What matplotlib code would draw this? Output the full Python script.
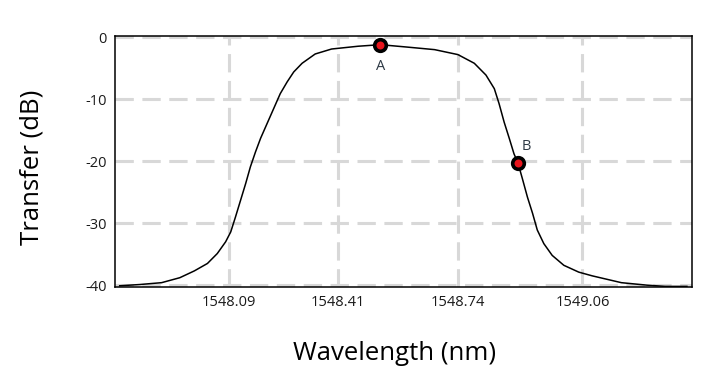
import numpy as np
import matplotlib
matplotlib.use('Agg')
import matplotlib.pyplot as plt

# curve
wavelength = [1547.789, 1547.844, 1547.904, 1547.954, 1547.994, 1548.030, 1548.057,
              1548.080, 1548.094, 1548.107, 1548.121, 1548.135, 1548.148, 1548.162,
              1548.176, 1548.194, 1548.212, 1548.230, 1548.249, 1548.267, 1548.290,
              1548.326, 1548.371, 1548.444, 1548.505, 1548.581, 1548.654, 1548.718,
              1548.763, 1548.795, 1548.818, 1548.831, 1548.845, 1548.859, 1548.872,
              1548.883, 1548.895, 1548.909, 1548.923, 1548.936, 1548.954, 1548.977,
              1549.009, 1549.050, 1549.087, 1549.167, 1549.237, 1549.287, 1549.347]
transfer = [-40.1, -39.9, -39.6, -38.8, -37.7, -36.5, -34.9,
            -33.0, -31.4, -29.0, -26.3, -23.6, -20.9, -18.5,
            -16.3, -13.9, -11.5, -9.1, -7.2, -5.6, -4.2,
            -2.7, -1.9, -1.45, -1.2, -1.6, -2.0, -2.8,
            -4.2, -6.1, -8.3, -10.7, -13.7, -16.3, -18.8,
            -20.3, -22.8, -25.8, -28.4, -31.1, -33.3, -35.2,
            -36.8, -37.9, -38.5, -39.6, -40.0, -40.2, -40.2]

# marked points
pt_names = ['A', 'B']
pt_wl = [1548.505, 1548.883]
pt_db = [-1.2, -20.3]

# axis ticks (label text vs. where the grid lines sit in the picture)
xtick_pos = [1548.09, 1548.388, 1548.718, 1549.06]
xtick_labels = ['1548.09', '1548.41', '1548.74', '1549.06']
ytick_pos = [0, -10, -20, -30, -40]

plt.rcParams['font.family'] = ['Open Sans', 'DejaVu Sans']
plt.rcParams['axes.unicode_minus'] = False

fig = plt.figure(figsize=(7.2, 3.77), dpi=100)
ax = fig.add_axes([0.1597, 0.2387, 0.8014, 0.6658])

ax.plot(wavelength, transfer, color='black', lw=1.1, zorder=3,
        solid_joinstyle='round')
ax.scatter(pt_wl, pt_db, s=70, facecolor='#e8141c', edgecolor='black',
           linewidth=2.6, zorder=4)
ax.annotate(pt_names[0], (pt_wl[0], pt_db[0]), xytext=(0, -16),
            textcoords='offset points', ha='center', va='center',
            fontsize=10.5, color='#2e3a45')
ax.annotate(pt_names[1], (pt_wl[1], pt_db[1]), xytext=(6, 12),
            textcoords='offset points', ha='center', va='center',
            fontsize=10.5, color='#2e3a45')

ax.set_xlim(1547.776, 1549.361)
ax.set_ylim(-40.3, 0.2)
ax.set_xticks(xtick_pos)
ax.set_xticklabels(xtick_labels)
ax.set_yticks(ytick_pos)
ax.tick_params(length=0, labelsize=10.5, pad=6, labelcolor='#1a1a1a')

ax.grid(True, color='#d8d8d8', lw=2.2, dashes=(6, 2.8))
ax.set_axisbelow(True)
for s in ax.spines.values():
    s.set_linewidth(1.1)

fig.text(395 / 720, 1 - 354 / 377, 'Wavelength (nm)', fontsize=18.5,
         ha='center', va='center')
fig.text(32 / 720, 1 - 167 / 377, 'Transfer (dB)', fontsize=18.5,
         rotation=90, ha='center', va='center')

fig.savefig('out.png', dpi=100)
